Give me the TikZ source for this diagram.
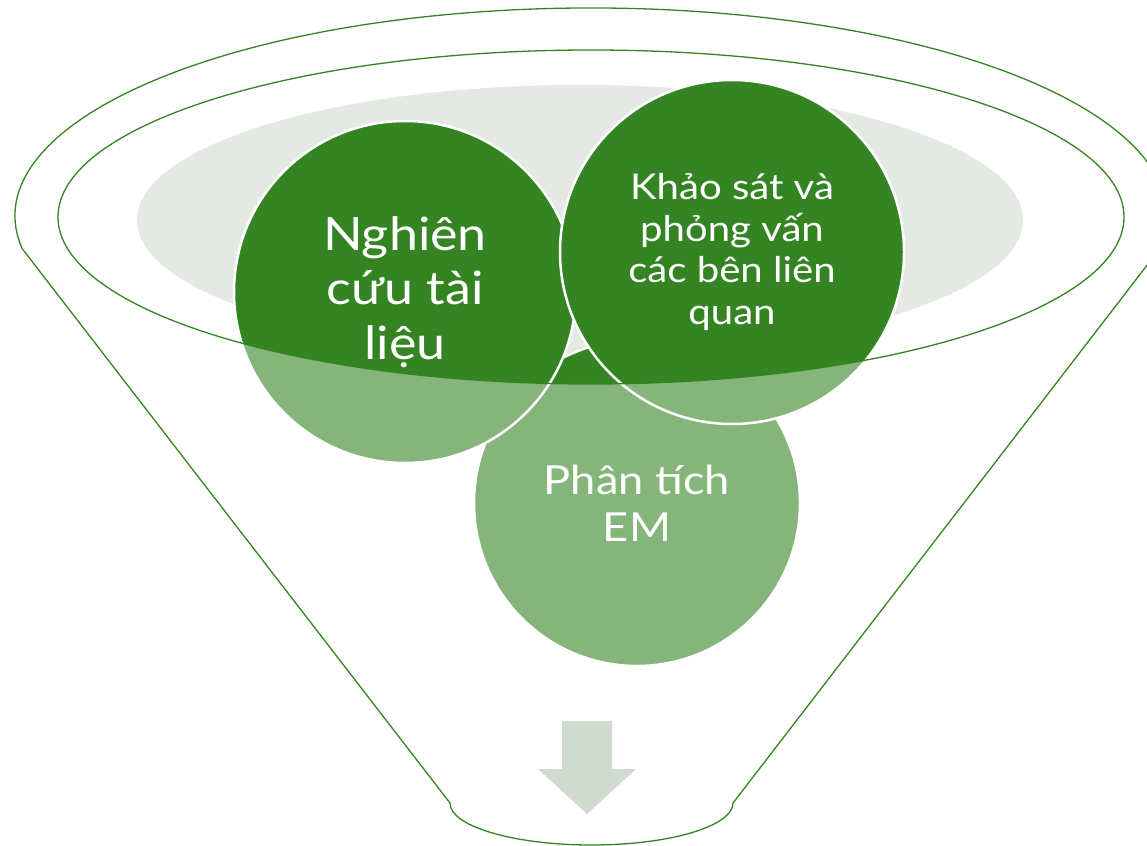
\documentclass[tikz,border=0pt]{standalone}
\usepackage{fontspec}
\setmainfont{Lato}[FakeStretch=1.13]
\definecolor{dkgreen}{HTML}{358423}
\definecolor{ltgray}{HTML}{E4E9E4}
\definecolor{arrowgray}{HTML}{CFDBCE}
\tikzset{
  stage/.style={circle, fill=dkgreen, draw=white, line width=2.5pt, inner sep=0pt, text=white, align=center},
  funnelline/.style={draw=dkgreen, line width=1.3pt},
}
\begin{document}
\begin{tikzpicture}[x=1pt,y=-1pt]
\useasboundingbox (0,0) rectangle (1147,845);
\clip (0,0) rectangle (1147,845);
% gray back ellipse
\fill[ltgray] (580,220) ellipse [x radius=443, y radius=135];
% circles
\node[stage, minimum size=326pt, font=\fontsize{40}{47}\selectfont] (em) at (637,503) {Phân tích\\EM};
\node[stage, minimum size=342pt, font=\fontsize{46}{54.5}\selectfont] (lit) at (405,292) {Nghiên\\cứu tài\\liệu};
\node[stage, minimum size=344pt, font=\fontsize{35.5}{41.5}\selectfont] (sur) at (732,252) {Khảo sát và\\phỏng vấn\\các bên liên\\quan};
% funnel body overlay
\fill[white, opacity=0.4, even odd rule]
  (22.1,248.5) arc[start angle=171, end angle=369, x radius=576, y radius=208]
  -- (733,803) arc[start angle=0, end angle=180, x radius=141.5, y radius=42] -- cycle
  (591,217) ellipse [x radius=533, y radius=167];
% funnel outlines
\draw[funnelline, line join=round]
  (22.1,248.5) arc[start angle=171, end angle=369, x radius=576, y radius=208]
  -- (733,803) arc[start angle=0, end angle=180, x radius=141.5, y radius=42] -- cycle;
\draw[funnelline] (591,217) ellipse [x radius=533, y radius=167];
% arrow
\fill[arrowgray] (562,721) -- (612,721) -- (612,769) -- (636,769) -- (587,814) -- (538,769) -- (562,769) -- cycle;
\end{tikzpicture}
\end{document}
